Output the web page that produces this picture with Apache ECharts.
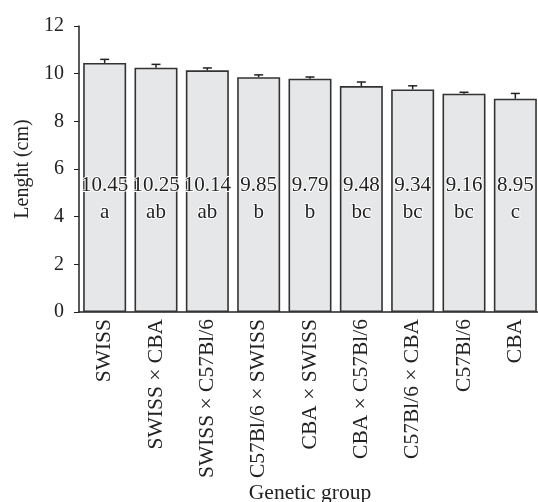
<!DOCTYPE html>
<html><head><meta charset="utf-8">
<script src="https://cdn.jsdelivr.net/npm/echarts@6/dist/echarts.min.js"></script>
<style>html,body{margin:0;padding:0;background:#fff}#c{width:538px;height:502px}</style>
</head><body><div id="c"></div>
<script>
var categories = ['SWISS','SWISS × CBA','SWISS × C57Bl/6','C57Bl/6 × SWISS','CBA × SWISS','CBA × C57Bl/6','C57Bl/6 × CBA','C57Bl/6','CBA'];
var values = [10.45,10.25,10.14,9.85,9.79,9.48,9.34,9.16,8.95];
var errors = [0.15,0.14,0.10,0.10,0.07,0.17,0.15,0.06,0.22];
var letters = ['a','ab','ab','b','b','bc','bc','bc','c'];
var yTicks = [0,2,4,6,8,10,12];

var FONT = 'Liberation Serif';
var TXT = '#222';
var chart = echarts.init(document.getElementById('c'));
chart.setOption({
  animation:false,
  textStyle:{fontFamily:FONT},
  grid:{left:79, top:26, width:462, height:286, containLabel:false, outerBoundsMode:'none'},
  xAxis:{
    type:'category', data:categories,
    name:'Genetic group', nameLocation:'middle', nameGap:170, nameMoveOverlap:false,
    nameTextStyle:{fontFamily:FONT, fontSize:21.5, color:TXT},
    axisLine:{lineStyle:{color:'#222', width:1.5}},
    axisTick:{alignWithLabel:false, length:4, lineStyle:{color:'#222'}},
    axisLabel:{rotate:90, interval:0, margin:7, fontFamily:FONT, fontSize:21.5, color:TXT}
  },
  yAxis:{
    type:'value', min:0, max:12, interval:2,
    name:'Lenght (cm)', nameLocation:'middle', nameGap:46, nameMoveOverlap:false,
    nameTextStyle:{fontFamily:FONT, fontSize:20, color:TXT},
    axisLine:{show:true, lineStyle:{color:'#222', width:1.5}},
    axisTick:{show:true, length:5, lineStyle:{color:'#222'}},
    splitLine:{show:false},
    axisLabel:{fontFamily:FONT, fontSize:20, color:TXT, margin:15,
      formatter:function(v){return yTicks.indexOf(v)>=0? String(v):'';}}
  },
  series:[{
    type:'bar', data:values, barWidth:43,
    itemStyle:{color:'#e6e7e8', borderColor:'#333', borderWidth:1.6},
    label:{show:true, position:'insideBottom', distance:86,
      formatter:function(p){return '{v|'+p.value.toFixed(2)+'}\n{l|'+letters[p.dataIndex]+'}';},
      rich:{
        v:{fontFamily:FONT, fontSize:21, color:TXT, lineHeight:27, textBorderColor:'#fff', textBorderWidth:2},
        l:{fontFamily:FONT, fontSize:21, color:TXT, lineHeight:27, textBorderColor:'#fff', textBorderWidth:2}
      }
    },
    z:2
  },{
    type:'custom',
    data: values.map(function(v,i){return [i, v, errors[i]];}),
    renderItem:function(params, api){
      var i = api.value(0), v = api.value(1), e = api.value(2);
      var p0 = api.coord([i, v]);
      var p1 = api.coord([i, v+e]);
      var hw = 4.5;
      return {type:'group', children:[
        {type:'line', shape:{x1:p0[0], y1:p0[1], x2:p1[0], y2:p1[1]}, style:{stroke:'#222', lineWidth:1.5}},
        {type:'line', shape:{x1:p1[0]-hw, y1:p1[1], x2:p1[0]+hw, y2:p1[1]}, style:{stroke:'#222', lineWidth:1.5}}
      ]};
    },
    z:3
  }]
});
</script>
</body></html>
